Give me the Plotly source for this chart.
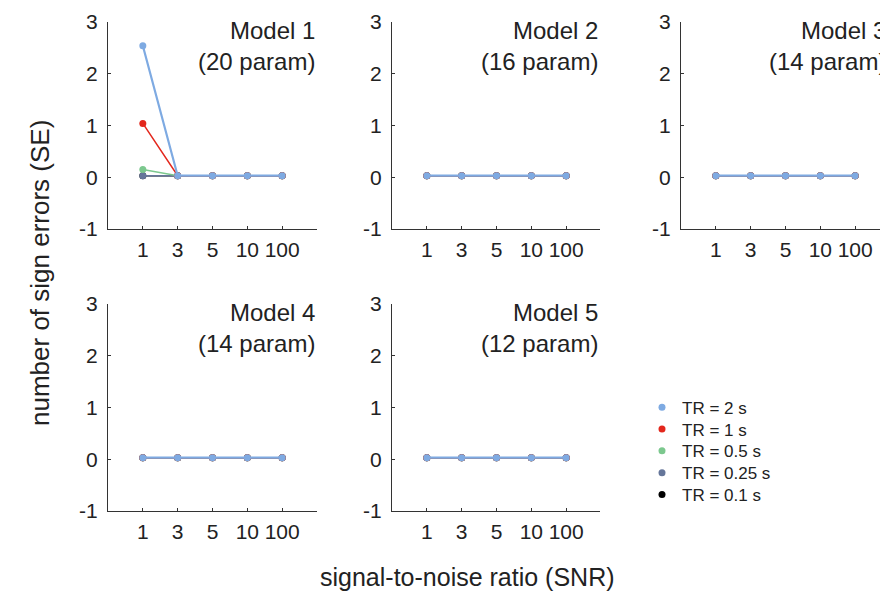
import plotly.graph_objects as go

# ---------------- data ----------------
snr_labels = ["1", "3", "5", "10", "100"]
y_ticks = [-1, 0, 1, 2, 3]
y_tick_labels = ["-1", "0", "1", "2", "3"]
tr_labels = ["TR = 2 s", "TR = 1 s", "TR = 0.5 s", "TR = 0.25 s", "TR = 0.1 s"]
tr_colors = ["#7eaae2", "#e3271c", "#7cc88e", "#65769a", "#000000"]

model_titles = ["Model 1", "Model 2", "Model 3", "Model 4", "Model 5"]
model_params = ["(20 param)", "(16 param)", "(14 param)", "(14 param)", "(12 param)"]

# sign errors per SNR, one list per TR (order: 2, 1, 0.5, 0.25, 0.1 s)
model1 = [
    [2.54, 0.03, 0.03, 0.03, 0.03],
    [1.04, 0.03, 0.03, 0.03, 0.03],
    [0.15, 0.03, 0.03, 0.03, 0.03],
    [0.03, 0.03, 0.03, 0.03, 0.03],
    [0.03, 0.03, 0.03, 0.03, 0.03],
]
model2 = [[0.03, 0.03, 0.03, 0.03, 0.03] for _ in range(5)]
model3 = [[0.03, 0.03, 0.03, 0.03, 0.03] for _ in range(5)]
model4 = [[0.03, 0.03, 0.03, 0.03, 0.03] for _ in range(5)]
model5 = [[0.03, 0.03, 0.03, 0.03, 0.03] for _ in range(5)]
models = [model1, model2, model3, model4, model5]

# ---------------- layout helpers ----------------
W, H = 888, 598
OFF = 8  # page body margin
FONT = "Liberation Sans, Arial, Helvetica, sans-serif"
TXT = "#222222"
AX = "#333333"


def px_x(sx):
    return (sx - OFF) / W


def px_y(sy):
    return 1 - (sy - OFF) / H


grid = [(0, 0), (0, 1), (0, 2), (1, 0), (1, 1)]
col_px = [(108, 317), (392, 600), (681, 888)]
row_px = [(22, 229), (304, 511)]

fig = go.Figure()
layout = dict(
    width=W, height=H,
    margin=dict(l=0, r=0, t=0, b=0, autoexpand=False),
    paper_bgcolor="white", plot_bgcolor="white",
    font=dict(family=FONT, color=TXT),
    annotations=[],
)

for k, (r, c) in enumerate(grid):
    sfx = "" if k == 0 else str(k + 1)
    xd = [px_x(col_px[c][0]), px_x(col_px[c][1])]
    yd = [px_y(row_px[r][1]), px_y(row_px[r][0])]
    width_px = col_px[c][1] - col_px[c][0]
    xr = [-1, -1 + 6 * width_px / 209.0]
    layout["xaxis" + sfx] = dict(
        domain=xd, anchor="y" + sfx, type="category",
        categoryorder="array", categoryarray=snr_labels,
        range=xr, showline=True, linecolor=AX, linewidth=1,
        ticks="inside", ticklen=3, tickcolor=AX, showgrid=False, zeroline=False,
        tickfont=dict(size=21, color=TXT), ticklabelstandoff=2,
        automargin=False, fixedrange=True,
    )
    layout["yaxis" + sfx] = dict(
        domain=yd, anchor="x" + sfx, range=[-1, 3],
        tickmode="array", tickvals=y_ticks, ticktext=y_tick_labels,
        showline=True, linecolor=AX, linewidth=1,
        ticks="inside", ticklen=3, tickcolor=AX, showgrid=False, zeroline=False,
        tickfont=dict(size=21, color=TXT), ticklabelstandoff=5,
        automargin=False, fixedrange=True,
    )
    # draw order: TR 0.1 first, TR 2 on top
    for t in reversed(range(5)):
        fig.add_trace(go.Scatter(
            x=snr_labels, y=models[k][t], mode="lines+markers",
            line=dict(color=tr_colors[t], width=2.2 if t == 0 else 1.5),
            marker=dict(color=tr_colors[t], size=7),
            xaxis="x" + sfx, yaxis="y" + sfx, showlegend=False,
            hoverinfo="skip",
        ))
    top = row_px[r][0]
    layout["annotations"].append(dict(
        text=model_titles[k] + "<br>" + model_params[k],
        xref="paper", yref="paper",
        x=px_x(col_px[c][1]), xanchor="right",
        y=px_y(top + 23.5), yanchor="middle",
        align="right", showarrow=False,
        font=dict(size=24, color=TXT, family=FONT),
    ))

# legend entries (marker only), one single-item legend per row for exact spacing
leg_x = 662 - 20
leg_y0, leg_dy = 407.7, 21.8
for t in range(5):
    lname = "legend" if t == 0 else "legend" + str(t + 1)
    fig.add_trace(go.Scatter(
        x=[None], y=[None], mode="markers", name=tr_labels[t],
        marker=dict(color=tr_colors[t], size=7),
        xaxis="x", yaxis="y", showlegend=True, legend=lname,
    ))
    layout[lname] = dict(
        x=px_x(leg_x), xanchor="left",
        y=px_y(leg_y0 + t * leg_dy), yanchor="middle",
        bgcolor="rgba(0,0,0,0)", font=dict(size=17, color=TXT, family=FONT),
        itemwidth=30, tracegroupgap=0,
    )

layout["annotations"].append(dict(
    text="number of sign errors (SE)", xref="paper", yref="paper",
    x=px_x(40), y=px_y(273), xanchor="center", yanchor="middle",
    textangle=-90, showarrow=False, font=dict(size=26, color=TXT, family=FONT),
))
layout["annotations"].append(dict(
    text="signal-to-noise ratio (SNR)", xref="paper", yref="paper",
    x=px_x(467), y=px_y(577), xanchor="center", yanchor="middle",
    showarrow=False, font=dict(size=25, color=TXT, family=FONT),
))

fig.update_layout(**layout)
fig.write_html("out.html")
